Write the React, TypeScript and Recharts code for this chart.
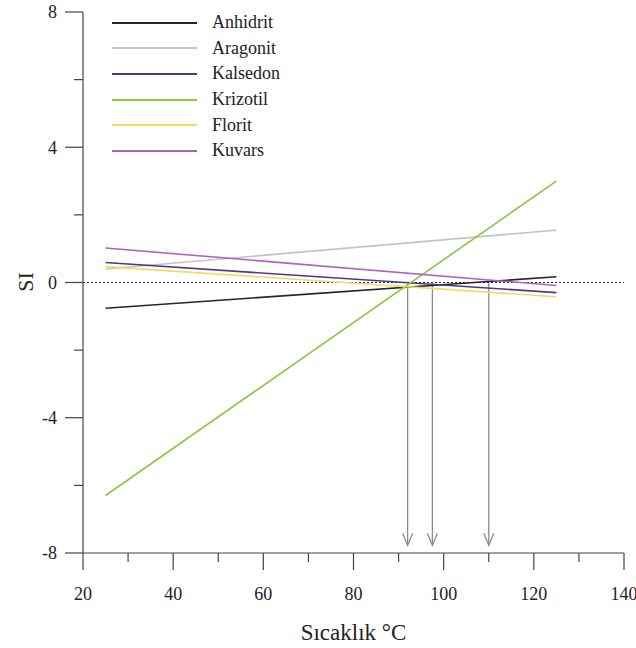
import React from 'react';
import { LineChart, Line, XAxis, YAxis, ReferenceLine, Legend, Label } from 'recharts';

// temperature (°C) at the two ends of each line
const temps = [25, 125];

// saturation index per mineral
const anhidrit = [-0.76, 0.17];
const aragonit = [0.4, 1.55];
const kalsedon = [0.59, -0.3];
const krizotil = [-6.3, 3.0];
const florit = [0.47, -0.42];
const kuvars = [1.02, -0.09];

// arrows dropped from the SI = 0 crossings
const arrowTemps = [92, 97.5, 110];
const arrowTip = -7.77;

const xTicks = [20, 30, 40, 50, 60, 70, 80, 90, 100, 110, 120, 130, 140];
const yTicks = [-8, -6, -4, -2, 0, 2, 4, 6, 8];

const series = [
  { name: 'Anhidrit', values: anhidrit, color: '#262626' },
  { name: 'Aragonit', values: aragonit, color: '#c4c4c4' },
  { name: 'Kalsedon', values: kalsedon, color: '#4a3a8e' },
  { name: 'Krizotil', values: krizotil, color: '#8cc63f' },
  { name: 'Florit', values: florit, color: '#f2dc5a' },
  { name: 'Kuvars', values: kuvars, color: '#b160c2' },
];

const data = temps.map((t, i) => {
  const row: any = { t };
  series.forEach((s) => (row[s.name] = s.values[i]));
  return row;
});

const font = "'Liberation Serif', 'DejaVu Serif', serif";
const axisColor = '#444';

function XTick({ x, y, payload }: any) {
  const major = payload.value % 20 === 0;
  return (
    <g>
      <line x1={x} y1={y} x2={x} y2={y + (major ? 17 : 9)} stroke={axisColor} strokeWidth={1.2} />
      {major && (
        <text x={x} y={y + 47} textAnchor="middle" fontSize={18} fontFamily={font} fill="#222">
          {payload.value}
        </text>
      )}
    </g>
  );
}

function YTick({ x, y, payload }: any) {
  const major = payload.value % 4 === 0;
  return (
    <g>
      <line x1={x} y1={y} x2={x - (major ? 18 : 9)} y2={y} stroke={axisColor} strokeWidth={1.2} />
      {major && (
        <text x={x - 26} y={y} dy="0.35em" textAnchor="end" fontSize={18} fontFamily={font} fill="#222">
          {payload.value}
        </text>
      )}
    </g>
  );
}

function Arrow(props: any) {
  const { x1, y1, x2, y2 } = props;
  return (
    <g stroke="#8c8c8c" strokeWidth={1.3} fill="none">
      <line x1={x1} y1={y1} x2={x2} y2={y2} />
      <polyline points={`${x2 - 5},${y2 - 12} ${x2},${y2} ${x2 + 5},${y2 - 12}`} />
    </g>
  );
}

function LegendBox() {
  return (
    <div style={{ fontFamily: font, fontSize: 18, color: '#222' }}>
      {series.map((s) => (
        <div key={s.name} style={{ display: 'flex', alignItems: 'center', height: 25.6 }}>
          <div style={{ width: 85, height: 2, background: s.color, marginRight: 15 }} />
          <span>{s.name}</span>
        </div>
      ))}
    </div>
  );
}

export default function App() {
  return (
    <div style={{ position: 'absolute', left: 0, top: 0, background: '#fff' }}>
      <LineChart width={636} height={648} data={data} margin={{ top: 12, right: 12, left: 0, bottom: 0 }}>
        <XAxis
          dataKey="t"
          type="number"
          domain={[20, 140]}
          ticks={xTicks}
          tickSize={0}
          tickMargin={0}
          tick={<XTick />}
          height={95}
          axisLine={{ stroke: axisColor, strokeWidth: 1.2 }}
        >
          <Label
            content={({ viewBox }: any) => (
              <text
                x={viewBox.x + viewBox.width / 2}
                y={640}
                textAnchor="middle"
                fontSize={23}
                fontFamily={font}
                fill="#222"
              >
                Sıcaklık °C
              </text>
            )}
          />
        </XAxis>
        <YAxis
          type="number"
          domain={[-8, 8]}
          ticks={yTicks}
          tickSize={0}
          tickMargin={0}
          tick={<YTick />}
          width={83}
          axisLine={{ stroke: axisColor, strokeWidth: 1.2 }}
        >
          <Label
            content={() => (
              <text
                x={25}
                y={282}
                textAnchor="middle"
                dy="0.35em"
                fontSize={22}
                fontFamily={font}
                fill="#222"
                transform="rotate(-90 25 282)"
              >
                SI
              </text>
            )}
          />
        </YAxis>
        <ReferenceLine y={0} stroke="#222" strokeDasharray="2 2" strokeWidth={1} />
        {arrowTemps.map((t) => (
          <ReferenceLine
            key={t}
            segment={[
              { x: t, y: 0 },
              { x: t, y: arrowTip },
            ]}
            shape={<Arrow />}
          />
        ))}
        {series.map((s) => (
          <Line
            key={s.name}
            dataKey={s.name}
            stroke={s.color}
            strokeWidth={1.6}
            dot={false}
            activeDot={false}
            type="linear"
            isAnimationActive={false}
          />
        ))}
        <Legend
          layout="vertical"
          align="center"
          verticalAlign="middle"
          content={() => <LegendBox />}
          wrapperStyle={{ position: 'absolute', left: 112, top: 10, width: 200 }}
        />
      </LineChart>
    </div>
  );
}
